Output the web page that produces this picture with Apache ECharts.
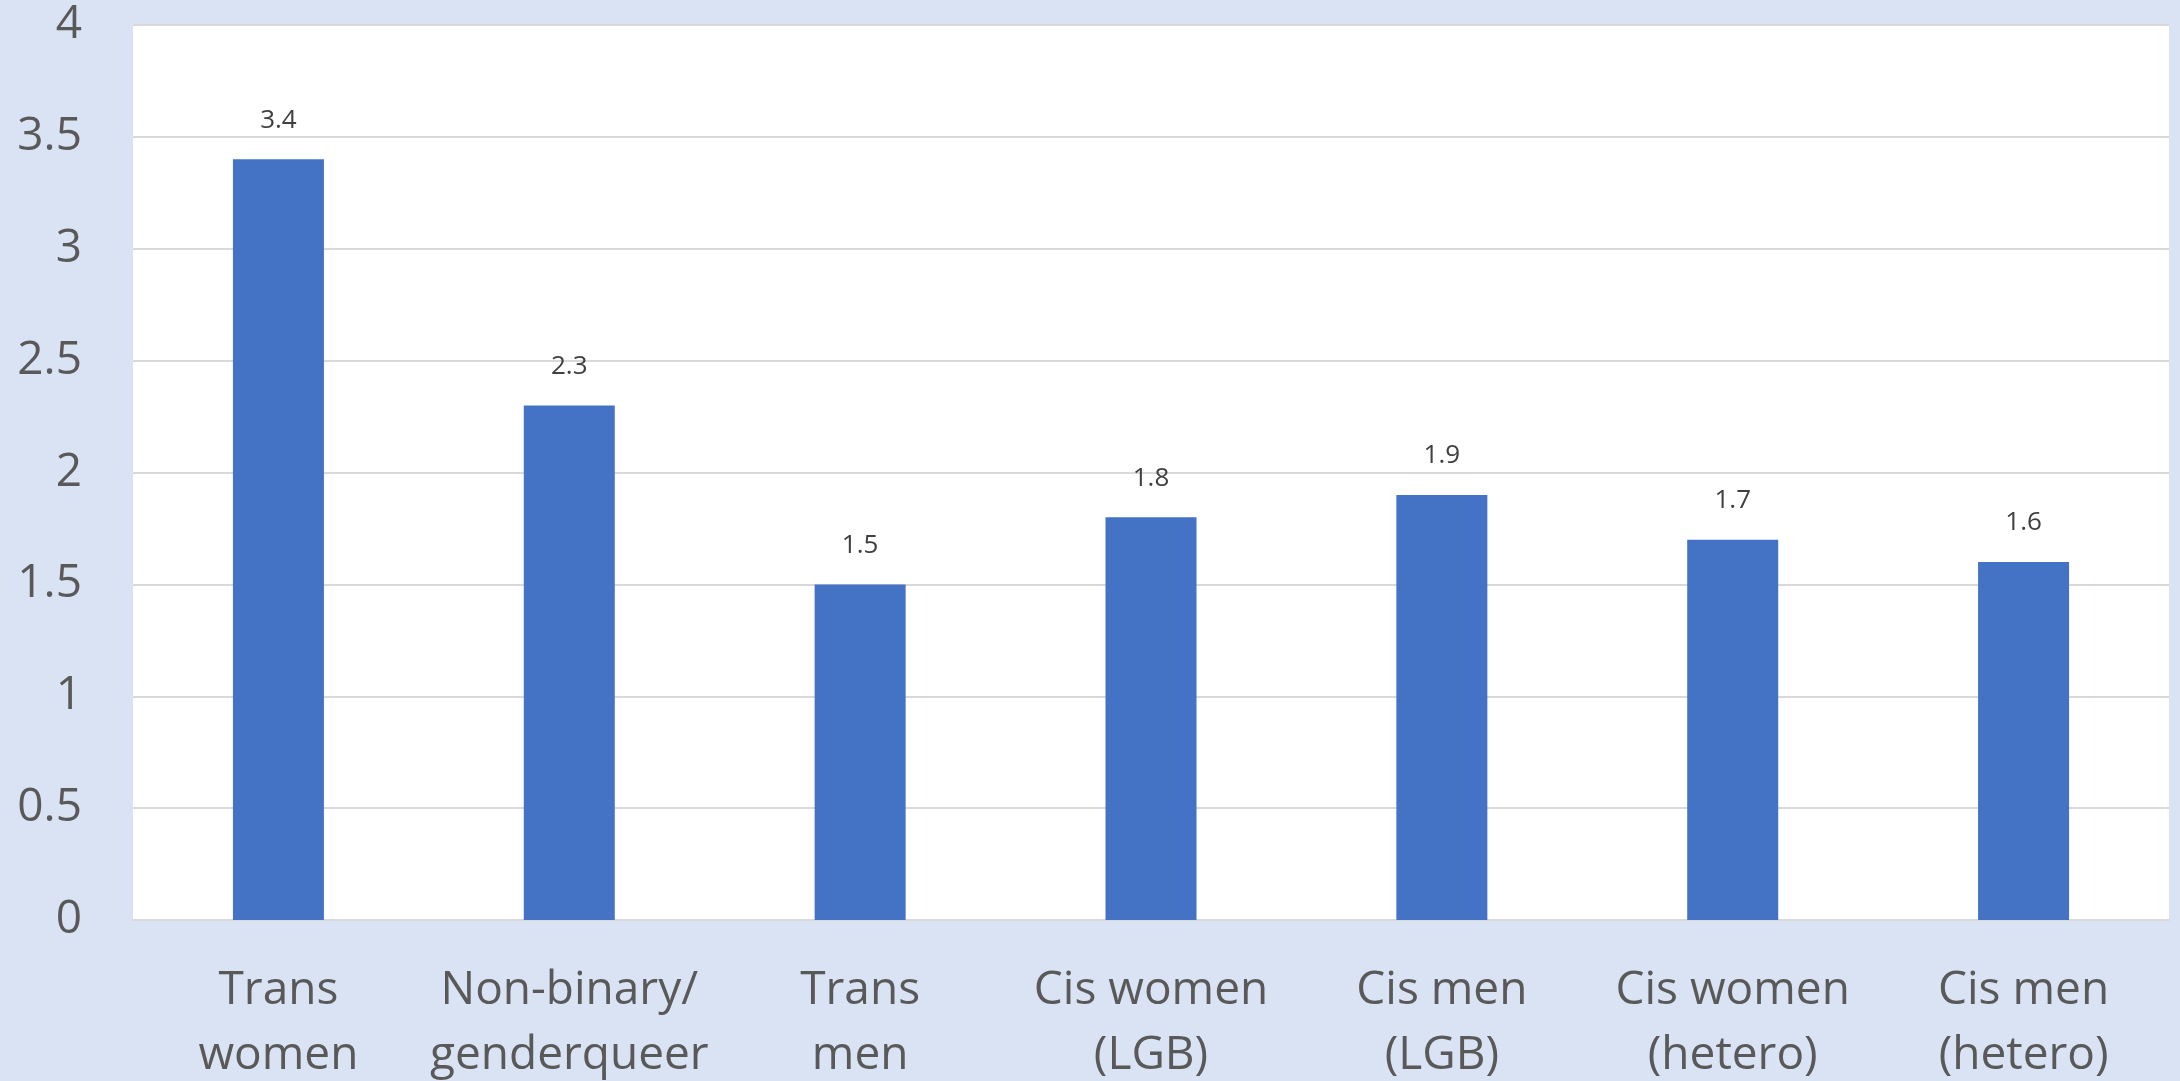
<!DOCTYPE html>
<html>
<head>
<meta charset="utf-8">
<script src="https://cdn.jsdelivr.net/npm/echarts@6/dist/echarts.min.js"></script>
<style>
  html, body { margin: 0; padding: 0; background: #dae3f3; }
  #main { width: 2180px; height: 1081px; }
</style>
</head>
<body>
<div id="main"></div>
<script>
const categories = [
  'Trans\nwomen',
  'Non-binary/\ngenderqueer',
  'Trans\nmen',
  'Cis women\n(LGB)',
  'Cis men\n(LGB)',
  'Cis women\n(hetero)',
  'Cis men\n(hetero)'
];
const values = [3.4, 2.3, 1.5, 1.8, 1.9, 1.7, 1.6];

const chart = echarts.init(document.getElementById('main'));

const options = {
  backgroundColor: '#dae3f3',
  textStyle: { fontFamily: 'Open Sans' },
  grid: {
    left: 133,
    right: 11,
    top: 25,
    bottom: 161,
    outerBoundsMode: 'none',
    containLabel: false,
    show: true,
    backgroundColor: '#ffffff',
    borderWidth: 0
  },
  xAxis: {
    type: 'category',
    data: categories,
    axisTick: { show: false },
    axisLine: { lineStyle: { color: '#d9d9d9', width: 2 } },
    axisLabel: {
      color: '#595959',
      fontSize: 46,
      lineHeight: 65,
      margin: 38,
      interval: 0
    }
  },
  yAxis: {
    type: 'value',
    min: 0,
    max: 4,
    interval: 0.5,
    axisLabel: {
      color: '#595959',
      fontSize: 46,
      margin: 51
    },
    splitLine: { lineStyle: { color: '#d9d9d9', width: 2 } }
  },
  series: [{
    type: 'bar',
    data: values,
    barWidth: 91,
    itemStyle: { color: '#4472c4' },
    label: {
      show: true,
      position: 'top',
      distance: 26,
      color: '#404040',
      fontSize: 26
    }
  }]
};

chart.setOption(options);
</script>
</body>
</html>
